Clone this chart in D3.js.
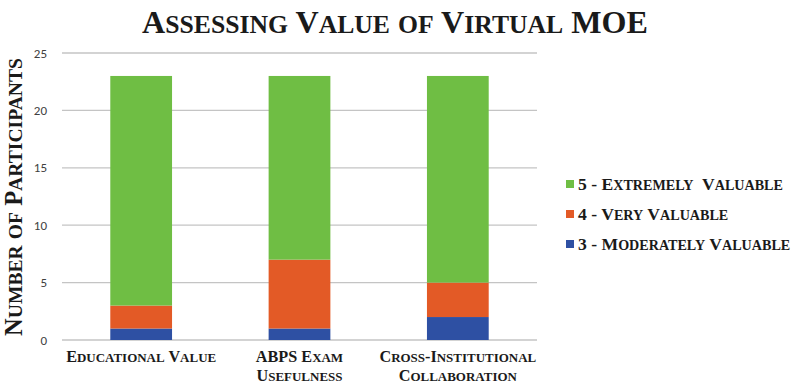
<!DOCTYPE html>
<html>
  <head>
    <title>Assessing Value of Virtual MOE</title>
    <script src="https://cdn.jsdelivr.net/npm/d3@7"></script>
    <style>
      body { margin: 0; background: #fff; }
      .serif { font-family: "Liberation Serif", "DejaVu Serif", serif; font-weight: bold; fill: #1a1a1a; white-space: pre; }
    </style>
  </head>
  <body>
    <svg width="800" height="386" id="mainsvg"></svg>
    <script>
    // data
    const categories = ['Educational Value', 'ABPS Exam Usefulness', 'Cross-Institutional Collaboration'];
    const categoryLines = [['Educational Value'], ['ABPS Exam', 'Usefulness'], ['Cross-Institutional', 'Collaboration']];
    const moderately = [1, 1, 2];
    const very = [2, 6, 3];
    const extremely = [20, 16, 18];
    const seriesNames = ['3 - Moderately Valuable', '4 - Very Valuable', '5 - Extremely  Valuable'];
    const seriesColors = ['#2E50A3', '#E35A26', '#6FBE44'];
    const yTicks = [0, 5, 10, 15, 20, 25];

    let svg = d3.select('#mainsvg');
    const margin = {left: 62, right: 263, top: 53, bottom: 46};
    const width = 800, height = 386;

    // small caps by hand: lower case letters become smaller capitals
    function smallCaps(text, str, ratio) {
      str.match(/[a-z]+|[^a-z]+/g).forEach(p => {
        text.append('tspan')
          .attr('font-size', /[a-z]/.test(p) ? ratio + 'em' : null)
          .text(p.toUpperCase());
      });
      return text;
    }
    // scale font so the text spans the wanted width
    function fitWidth(text, w) {
      let s = +text.attr('font-size');
      let len = text.node().getComputedTextLength();
      text.attr('font-size', s * w / len);
      return s * w / len;
    }

    let rows = categories.map((c, i) => ({cat: c, m: moderately[i], v: very[i], e: extremely[i]}));
    let stack = d3.stack().keys(['m', 'v', 'e'])(rows);

    let x = d3.scaleBand().domain(categories)
      .range([margin.left, width - margin.right])
      .paddingInner(0.61).paddingOuter(0.305);
    let y = d3.scaleLinear().domain([0, 25]).range([height - margin.bottom, margin.top]);

    // gridlines
    svg.append('g').selectAll('line').data(yTicks).join('line')
      .attr('x1', margin.left).attr('x2', width - margin.right)
      .attr('y1', d => y(d)).attr('y2', d => y(d))
      .attr('stroke', '#C4C4C4').attr('stroke-width', 1.3);

    // y tick labels
    svg.append('g').selectAll('text').data(yTicks).join('text')
      .attr('x', 47).attr('y', d => y(d)).attr('dy', '0.35em')
      .attr('text-anchor', 'end')
      .attr('font-family', 'Carlito, "Open Sans", "Liberation Sans", sans-serif')
      .attr('font-size', 13).attr('fill', '#404040')
      .text(d => d);

    // stacked bars
    svg.append('g').selectAll('g').data(stack).join('g')
      .attr('fill', (d, i) => seriesColors[i])
      .selectAll('rect').data(d => d).join('rect')
      .attr('x', d => x(d.data.cat))
      .attr('width', x.bandwidth())
      .attr('y', d => y(d[1]))
      .attr('height', d => y(d[0]) - y(d[1]));

    // x labels
    let probe = smallCaps(svg.append('text').attr('class', 'serif').attr('font-size', 16), categoryLines[0][0], 0.8);
    let xSize = fitWidth(probe, 150);
    probe.remove();
    categories.forEach((c, i) => {
      categoryLines[i].forEach((line, j) => {
        smallCaps(svg.append('text').attr('class', 'serif')
          .attr('text-anchor', 'middle')
          .attr('font-size', xSize)
          .attr('x', x(c) + x.bandwidth() / 2)
          .attr('y', 362 + j * 19), line, 0.8);
      });
    });

    // title
    let title = smallCaps(svg.append('text').attr('class', 'serif')
      .attr('x', 395).attr('y', 33)
      .attr('text-anchor', 'middle')
      .attr('font-size', 30), 'Assessing Value of Virtual MOE', 0.8);
    fitWidth(title, 506);

    // y axis title
    let ytitle = smallCaps(svg.append('text').attr('class', 'serif')
      .attr('transform', 'translate(22,197) rotate(-90)')
      .attr('text-anchor', 'middle')
      .attr('font-size', 22), 'Number of Participants', 0.8);
    fitWidth(ytitle, 278);

    // legend, top row is the top of the stack
    let legend = svg.append('g').selectAll('g').data([2, 1, 0]).join('g')
      .attr('transform', (d, i) => 'translate(566,' + (184 + i * 30) + ')');
    legend.append('rect')
      .attr('x', 0).attr('y', -4).attr('width', 8).attr('height', 8)
      .attr('fill', d => seriesColors[d]);
    let legSize = null;
    legend.each(function(d) {
      let t = smallCaps(d3.select(this).append('text').attr('class', 'serif')
        .attr('x', 12).attr('dy', '0.35em')
        .attr('font-size', 16), seriesNames[d], 0.8);
      if (d === 2) legSize = fitWidth(t, 205);
    });
    legend.selectAll('text').attr('font-size', legSize);
    </script>
  </body>
</html>
